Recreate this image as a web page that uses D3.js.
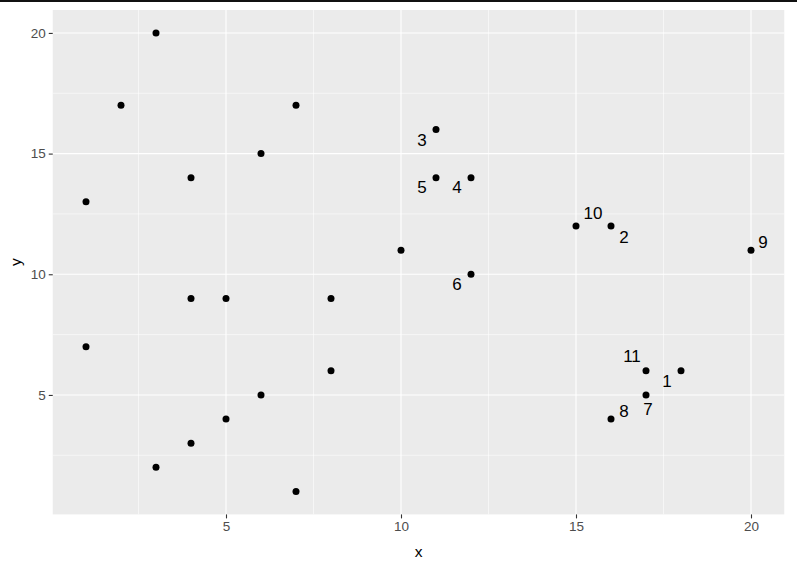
<!DOCTYPE html>
<html>
<head>
<meta charset="utf-8">
<script src="https://cdn.jsdelivr.net/npm/d3@7"></script>
<style>
  body { margin: 0; background: #fff; }
  text { font-family: "Liberation Sans", Arial, sans-serif; }
</style>
</head>
<body>
<div id="chart"></div>
<script>
// points without labels
const plainX = [3, 2, 7, 6, 4, 1, 10, 4, 5, 8, 1, 8, 6, 5, 4, 3, 7];
const plainY = [20, 17, 17, 15, 14, 13, 11, 9, 9, 9, 7, 6, 5, 4, 3, 2, 1];

// labelled points
const labelNames = ["1", "2", "3", "4", "5", "6", "7", "8", "9", "10", "11"];
const labelX = [18, 16, 11, 12, 11, 12, 17, 16, 20, 15, 17];
const labelY = [6, 12, 16, 14, 14, 10, 5, 4, 11, 12, 6];

const xTicks = [5, 10, 15, 20];
const yTicks = [5, 10, 15, 20];

const width = 797, height = 570;
const margin = { top: 10, right: 12.75, bottom: 55.6, left: 52.75 };

// repel offsets in px (text centre relative to point)
const nudge = {
  "1": [-14, 11], "2": [13, 12], "3": [-14, 11], "4": [-14, 10],
  "5": [-14, 10], "6": [-14, 10], "7": [2, 15], "8": [13, -8],
  "9": [12, -8], "10": [17, -12], "11": [-14, -14]
};

const svg = d3.select("#chart")
  .append("svg")
  .attr("width", width)
  .attr("height", height);

// thin dark strip at the very top
svg.append("rect")
  .attr("x", 0).attr("y", 0)
  .attr("width", width).attr("height", 2)
  .attr("fill", "#111");

const allX = plainX.concat(labelX);
const allY = plainY.concat(labelY);
const xExt = d3.extent(allX), yExt = d3.extent(allY);
const xPad = (xExt[1] - xExt[0]) * 0.05, yPad = (yExt[1] - yExt[0]) * 0.05;

const xScale = d3.scaleLinear()
  .domain([xExt[0] - xPad, xExt[1] + xPad])
  .range([margin.left, width - margin.right]);

const yScale = d3.scaleLinear()
  .domain([yExt[0] - yPad, yExt[1] + yPad])
  .range([height - margin.bottom, margin.top]);

// panel
svg.append("rect")
  .attr("x", margin.left).attr("y", margin.top)
  .attr("width", width - margin.left - margin.right)
  .attr("height", height - margin.top - margin.bottom)
  .attr("fill", "#ebebeb");

const minor = [2.5, 7.5, 12.5, 17.5];

svg.append("g").selectAll("line")
  .data(minor)
  .join("line")
  .attr("x1", d => xScale(d)).attr("x2", d => xScale(d))
  .attr("y1", margin.top).attr("y2", height - margin.bottom)
  .attr("stroke", "#fff").attr("stroke-width", 0.55);

svg.append("g").selectAll("line")
  .data(minor)
  .join("line")
  .attr("y1", d => yScale(d)).attr("y2", d => yScale(d))
  .attr("x1", margin.left).attr("x2", width - margin.right)
  .attr("stroke", "#fff").attr("stroke-width", 0.55);

svg.append("g").selectAll("line")
  .data(xTicks)
  .join("line")
  .attr("x1", d => xScale(d)).attr("x2", d => xScale(d))
  .attr("y1", margin.top).attr("y2", height - margin.bottom)
  .attr("stroke", "#fff").attr("stroke-width", 1.1);

svg.append("g").selectAll("line")
  .data(yTicks)
  .join("line")
  .attr("y1", d => yScale(d)).attr("y2", d => yScale(d))
  .attr("x1", margin.left).attr("x2", width - margin.right)
  .attr("stroke", "#fff").attr("stroke-width", 1.1);

// axes
const xAxis = svg.append("g")
  .attr("transform", `translate(0,${height - margin.bottom})`)
  .call(d3.axisBottom(xScale).tickValues(xTicks).tickSize(4).tickPadding(3));
const yAxis = svg.append("g")
  .attr("transform", `translate(${margin.left},0)`)
  .call(d3.axisLeft(yScale).tickValues(yTicks).tickSize(4).tickPadding(3));

[xAxis, yAxis].forEach(ax => {
  ax.select(".domain").remove();
  ax.selectAll(".tick line").attr("stroke", "#333").attr("stroke-width", 1.1);
  ax.selectAll(".tick text")
    .attr("fill", "#4d4d4d")
    .attr("font-size", "13.5px")
    .style("font-family", "'Liberation Sans', Arial, sans-serif");
});

svg.append("text")
  .attr("x", (margin.left + width - margin.right) / 2)
  .attr("y", 557)
  .attr("text-anchor", "middle")
  .attr("font-size", "15.5px")
  .text("x");

svg.append("text")
  .attr("transform", `translate(21,${(margin.top + height - margin.bottom) / 2}) rotate(-90)`)
  .attr("text-anchor", "middle")
  .attr("font-size", "15.5px")
  .text("y");

// points
const plain = plainX.map((x, i) => ({ x: x, y: plainY[i] }));
const labelled = labelNames.map((n, i) => ({ name: n, x: labelX[i], y: labelY[i] }));

svg.append("g").selectAll("circle")
  .data(plain.concat(labelled))
  .join("circle")
  .attr("cx", d => xScale(d.x))
  .attr("cy", d => yScale(d.y))
  .attr("r", 3.5)
  .attr("fill", "#000");

svg.append("g").selectAll("text")
  .data(labelled)
  .join("text")
  .attr("x", d => xScale(d.x) + nudge[d.name][0])
  .attr("y", d => yScale(d.y) + nudge[d.name][1])
  .attr("text-anchor", "middle")
  .attr("dominant-baseline", "central")
  .attr("font-size", "17px")
  .attr("fill", "#000")
  .text(d => d.name);
</script>
</body>
</html>
